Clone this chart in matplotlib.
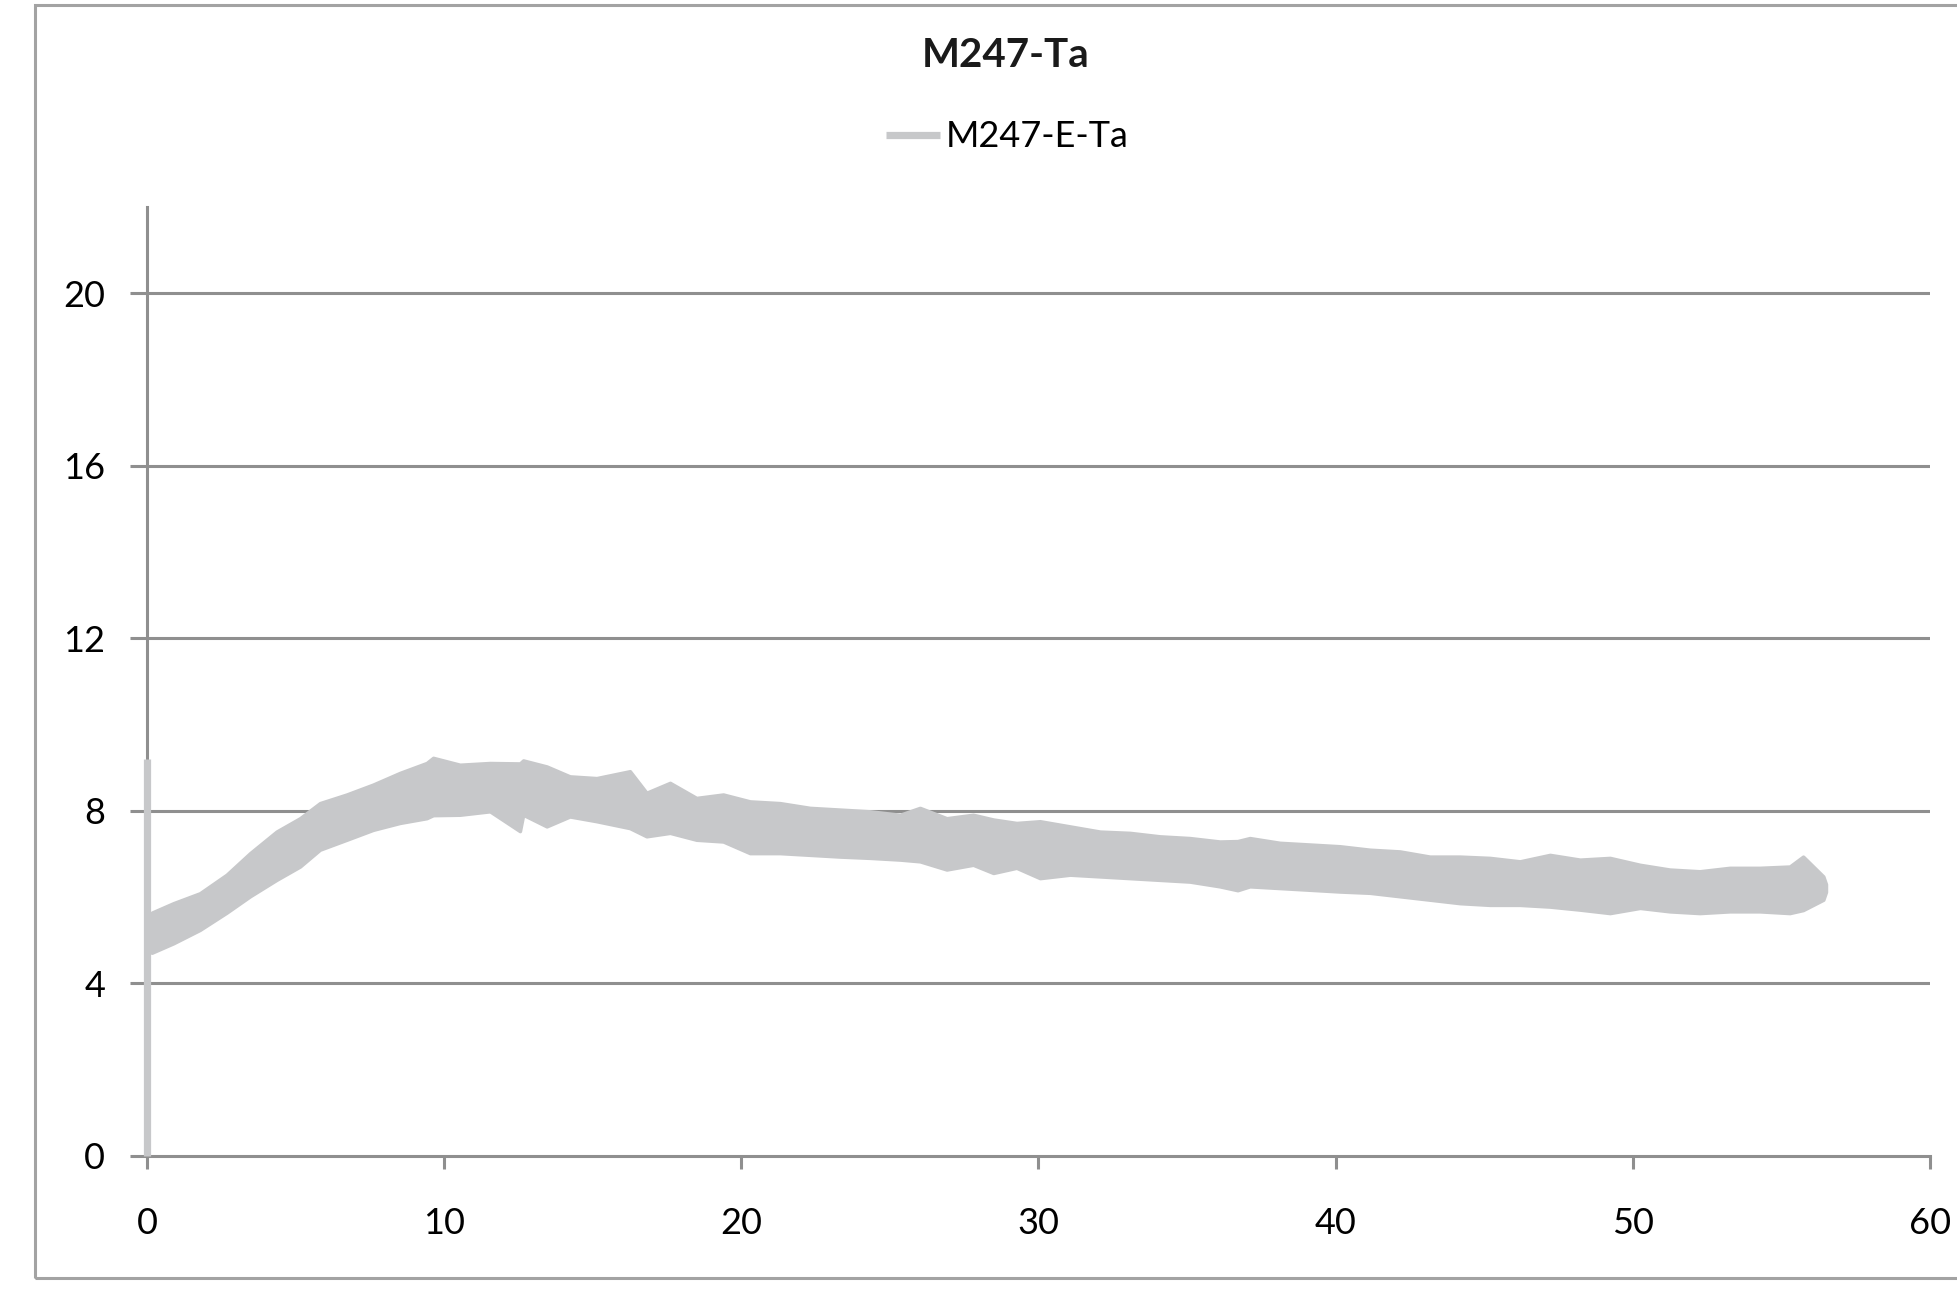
import numpy as np
import matplotlib.pyplot as plt
from matplotlib.patches import Rectangle

tiempo = [0.16, 0.89, 1.78, 2.68, 3.47, 4.36, 5.15, 5.82, 6.72, 7.61,
          8.51, 9.41, 9.63, 10.53, 11.54, 12.55, 12.66, 13.45, 14.23, 15.13,
          16.25, 16.81, 17.60, 18.49, 19.39, 20.29, 21.30, 22.31, 23.32, 24.33,
          25.34, 26.01, 26.91, 27.80, 28.48, 29.26, 30.05, 31.06, 32.07, 33.08,
          34.08, 35.09, 36.10, 36.70, 37.11, 38.12, 39.14, 40.14, 41.15, 42.16,
          43.17, 44.18, 45.19, 46.20, 47.21, 48.22, 49.23, 50.24, 51.24, 52.25,
          53.26, 54.27, 55.28, 55.73, 56.41, 56.50]
superior = [5.64, 5.86, 6.09, 6.52, 7.02, 7.52, 7.83, 8.18, 8.38, 8.61,
            8.88, 9.11, 9.23, 9.07, 9.11, 9.10, 9.17, 9.03, 8.80, 8.76,
            8.92, 8.42, 8.65, 8.30, 8.38, 8.22, 8.18, 8.07, 8.03, 7.99,
            7.91, 8.07, 7.83, 7.91, 7.80, 7.72, 7.76, 7.64, 7.52, 7.49,
            7.41, 7.37, 7.29, 7.30, 7.37, 7.26, 7.22, 7.18, 7.10, 7.06,
            6.94, 6.94, 6.91, 6.83, 6.98, 6.87, 6.91, 6.75, 6.64, 6.60,
            6.68, 6.68, 6.71, 6.94, 6.48, 6.30]
inferior = [4.71, 4.93, 5.24, 5.64, 6.02, 6.40, 6.71, 7.10, 7.33, 7.56,
            7.72, 7.83, 7.90, 7.91, 7.99, 7.53, 7.91, 7.64, 7.87, 7.76,
            7.60, 7.41, 7.49, 7.33, 7.29, 7.02, 7.02, 6.98, 6.94, 6.91,
            6.87, 6.83, 6.64, 6.75, 6.56, 6.68, 6.44, 6.52, 6.48, 6.44,
            6.40, 6.36, 6.25, 6.16, 6.25, 6.21, 6.17, 6.13, 6.10, 6.02,
            5.94, 5.86, 5.82, 5.82, 5.78, 5.71, 5.63, 5.75, 5.67, 5.63,
            5.67, 5.67, 5.63, 5.70, 5.94, 6.12]

# salto inicial en t = 0
pico_x = [0, 0]
pico_y = [0, 9.2]

x_ticks = [0, 10, 20, 30, 40, 50, 60]
y_ticks = [0, 4, 8, 12, 16, 20]

titulo = 'M247-Ta'
serie = 'M247-E-Ta'

gris_serie = '#c7c8ca'
gris_ejes = '#8f8f8f'

plt.rcParams['font.family'] = ['Lato', 'DejaVu Sans']

fig = plt.figure(figsize=(19.57, 12.92), dpi=100)
ax = fig.add_axes([0.0751, 0.1053, 0.9862 - 0.0751, 0.8398 - 0.1053])

# MARCO EXTERIOR
fig.patches.append(Rectangle((0.0179, 0.0108), 1.0, 0.9853, transform=fig.transFigure,
                             fill=False, edgecolor='#a3a3a3', linewidth=2.2))

# REJILLA
for y in y_ticks[1:]:
    ax.axhline(y, color=gris_ejes, linewidth=2.2, zorder=1)

# SERIE
ax.fill_between(tiempo, inferior, superior, color=gris_serie, edgecolor=gris_serie,
                linewidth=2.5, zorder=3)
linea, = ax.plot(pico_x, pico_y, color=gris_serie, linewidth=5.2,
                 solid_capstyle='butt', zorder=4, label=serie, clip_on=False)

ax.set_xlim(0, 60)
ax.set_ylim(0, 22)
ax.set_xticks(x_ticks)
ax.set_yticks(y_ticks)

for lado in ['top', 'right']:
    ax.spines[lado].set_visible(False)
for lado in ['left', 'bottom']:
    ax.spines[lado].set_color(gris_ejes)
    ax.spines[lado].set_linewidth(2.2)
    ax.spines[lado].set_zorder(2)

ax.tick_params(axis='x', length=9, width=2.2, color=gris_ejes, labelsize=26, pad=28)
ax.tick_params(axis='y', length=12, width=2.2, color=gris_ejes, labelsize=26, pad=18)

# TITULO Y LEYENDA
fig.text(0.514, 0.9567, titulo, ha='center', va='center', fontsize=29,
         fontweight='bold', color='#1a1a1a')
fig.legend(handles=[linea], labels=[serie], loc='center', bbox_to_anchor=(0.5148, 0.894),
           frameon=False, fontsize=26, handlelength=1.5, handletextpad=0.15,
           borderpad=0.1)

fig.savefig('out.png', dpi=100)
